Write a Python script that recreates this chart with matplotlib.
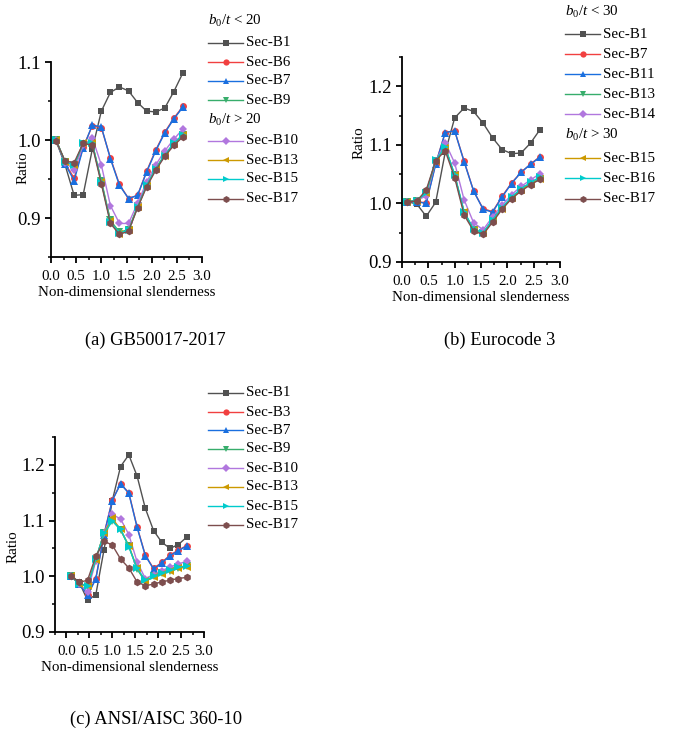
import matplotlib
matplotlib.use("Agg")
from matplotlib import pyplot as plt
from matplotlib.lines import Line2D

plt.rcParams['font.family'] = ['Liberation Serif', 'DejaVu Serif']
plt.rcParams['mathtext.fontset'] = 'custom'
plt.rcParams['mathtext.rm'] = 'Liberation Serif'
plt.rcParams['mathtext.it'] = 'Liberation Serif:italic'
plt.rcParams['font.size'] = 10.8

W, H = 682, 735

# non-dimensional slenderness of the analysed columns
slenderness = [0.10, 0.28, 0.46, 0.64, 0.82, 1.00, 1.18, 1.36, 1.54, 1.72, 1.90, 2.08, 2.26, 2.44, 2.62]

# (a) GB50017-2017
gb_names = ["Sec-B1", "Sec-B6", "Sec-B7", "Sec-B9", "Sec-B10", "Sec-B13", "Sec-B15", "Sec-B17"]
gb_b1 = [0.999, 0.968, 0.929, 0.930, 0.988, 1.037, 1.061, 1.068, 1.063, 1.048, 1.037, 1.036, 1.041, 1.062, 1.086]
gb_b6 = [1.000, 0.970, 0.951, 0.991, 1.018, 1.016, 0.977, 0.943, 0.925, 0.929, 0.960, 0.987, 1.010, 1.028, 1.043]
gb_b7 = [1.000, 0.969, 0.948, 0.990, 1.019, 1.017, 0.976, 0.942, 0.925, 0.929, 0.959, 0.986, 1.009, 1.027, 1.042]
gb_b9 = [1.000, 0.972, 0.967, 0.995, 0.995, 0.948, 0.897, 0.882, 0.885, 0.915, 0.942, 0.964, 0.981, 0.996, 1.007]
gb_b10 = [1.000, 0.971, 0.962, 0.993, 1.003, 0.968, 0.916, 0.893, 0.893, 0.919, 0.946, 0.968, 0.986, 1.001, 1.014]
gb_b13 = [1.000, 0.972, 0.968, 0.996, 0.996, 0.946, 0.896, 0.880, 0.884, 0.914, 0.941, 0.963, 0.980, 0.995, 1.006]
gb_b15 = [1.000, 0.972, 0.968, 0.996, 0.996, 0.946, 0.895, 0.881, 0.884, 0.914, 0.942, 0.963, 0.980, 0.996, 1.006]
gb_b17 = [0.999, 0.973, 0.971, 0.996, 0.993, 0.944, 0.893, 0.879, 0.883, 0.913, 0.940, 0.961, 0.979, 0.993, 1.004]
gb_series = [gb_b1, gb_b6, gb_b7, gb_b9, gb_b10, gb_b13, gb_b15, gb_b17]

# (b) Eurocode 3
ec_names = ["Sec-B1", "Sec-B7", "Sec-B11", "Sec-B13", "Sec-B14", "Sec-B15", "Sec-B16", "Sec-B17"]
ec_b1 = [1.003, 0.999, 0.978, 1.002, 1.087, 1.146, 1.163, 1.157, 1.137, 1.112, 1.092, 1.085, 1.086, 1.103, 1.126]
ec_b7 = [1.003, 1.003, 1.001, 1.068, 1.121, 1.124, 1.072, 1.021, 0.991, 0.986, 1.012, 1.035, 1.053, 1.067, 1.080]
ec_b11 = [1.003, 1.003, 1.000, 1.067, 1.121, 1.124, 1.071, 1.021, 0.990, 0.985, 1.011, 1.034, 1.053, 1.067, 1.079]
ec_b13 = [1.003, 1.005, 1.018, 1.073, 1.096, 1.048, 0.984, 0.955, 0.950, 0.972, 0.992, 1.010, 1.024, 1.034, 1.042]
ec_b14 = [1.003, 1.005, 1.013, 1.072, 1.104, 1.069, 1.006, 0.967, 0.955, 0.977, 0.997, 1.015, 1.029, 1.040, 1.051]
ec_b15 = [1.003, 1.005, 1.018, 1.073, 1.095, 1.048, 0.985, 0.955, 0.949, 0.971, 0.991, 1.009, 1.023, 1.033, 1.042]
ec_b16 = [1.003, 1.005, 1.018, 1.074, 1.096, 1.049, 0.986, 0.956, 0.950, 0.972, 0.993, 1.011, 1.025, 1.036, 1.045]
ec_b17 = [1.003, 1.004, 1.023, 1.073, 1.090, 1.044, 0.980, 0.953, 0.947, 0.968, 0.990, 1.008, 1.021, 1.032, 1.041]
ec_series = [ec_b1, ec_b7, ec_b11, ec_b13, ec_b14, ec_b15, ec_b16, ec_b17]

# (c) ANSI/AISC 360-10
aisc_names = ["Sec-B1", "Sec-B3", "Sec-B7", "Sec-B9", "Sec-B10", "Sec-B13", "Sec-B15", "Sec-B17"]
aisc_b1 = [1.002, 0.989, 0.957, 0.967, 1.048, 1.136, 1.197, 1.218, 1.180, 1.122, 1.082, 1.061, 1.050, 1.057, 1.070]
aisc_b3 = [1.000, 0.986, 0.967, 0.996, 1.076, 1.137, 1.166, 1.150, 1.089, 1.038, 1.014, 1.025, 1.038, 1.047, 1.055]
aisc_b7 = [1.000, 0.986, 0.966, 0.995, 1.075, 1.136, 1.166, 1.149, 1.088, 1.037, 1.013, 1.024, 1.037, 1.046, 1.054]
aisc_b9 = [1.000, 0.987, 0.981, 1.030, 1.078, 1.100, 1.083, 1.054, 1.013, 0.990, 1.000, 1.006, 1.010, 1.014, 1.018]
aisc_b10 = [1.000, 0.987, 0.972, 1.028, 1.078, 1.111, 1.103, 1.075, 1.026, 0.996, 1.003, 1.010, 1.017, 1.022, 1.027]
aisc_b13 = [1.000, 0.987, 0.983, 1.030, 1.078, 1.104, 1.084, 1.055, 1.014, 0.992, 0.999, 1.005, 1.010, 1.014, 1.017]
aisc_b15 = [1.000, 0.987, 0.982, 1.031, 1.077, 1.099, 1.085, 1.053, 1.014, 0.993, 1.000, 1.006, 1.011, 1.016, 1.019]
aisc_b17 = [1.000, 0.989, 0.993, 1.036, 1.063, 1.056, 1.031, 1.015, 0.990, 0.983, 0.986, 0.990, 0.993, 0.996, 0.998]
aisc_series = [aisc_b1, aisc_b3, aisc_b7, aisc_b9, aisc_b10, aisc_b13, aisc_b15, aisc_b17]

xtick_vals = [0.0, 0.5, 1.0, 1.5, 2.0, 2.5, 3.0]

colors = ['#515151', '#F14040', '#1A6FDF', '#37AD6B', '#B177DE', '#CC9900', '#00CBCC', '#7D4E4E']
markers = ['s', 'o', '^', 'v', 'D', '<', '>', 'h']
msizes = [5, 5, 5.5, 5.5, 4.5, 5.5, 5.5, 5.5]


def rect(left, top, right, bottom):
    return [left / W, 1 - bottom / H, (right - left) / W, (bottom - top) / H]


def draw_panel(ax, series, xlim, ylim, yticks, ylabel_pos):
    for i, ys in enumerate(series):
        ax.plot(slenderness, ys, color=colors[i], marker=markers[i], ms=msizes[i],
                lw=1.0, mew=0, zorder=2 + i)
    ax.set_xticks(xtick_vals)
    ax.set_xticks([x / 4 for x in range(int(xlim[0] * 4), 13)], minor=True)
    ax.set_yticks(yticks)
    ax.set_yticks([round(yticks[0] - 0.05 + 0.05 * k, 3) for k in range(2 * len(yticks) + 2)], minor=True)
    ax.set_xlim(*xlim)
    ax.set_ylim(*ylim)
    ax.set_xticklabels(['%.1f' % t for t in xtick_vals])
    ax.set_yticklabels(['%.1f' % t for t in yticks])
    for s in ['top', 'right']:
        ax.spines[s].set_visible(False)
    for s in ['left', 'bottom']:
        ax.spines[s].set_linewidth(1.3)
    ax.tick_params(which='major', direction='out', length=4.5, width=1.3)
    ax.tick_params(which='minor', direction='out', length=2.5, width=1.1)
    ax.tick_params(axis='x', pad=5, labelsize=10.8)
    ax.tick_params(axis='y', pad=3, labelsize=13.5)
    ax.set_xlabel('Non-dimensional slenderness', fontsize=10.8, labelpad=2)
    ax.set_ylabel('Ratio', fontsize=10.8)
    ax.yaxis.set_label_coords(*ylabel_pos)


def draw_legend(fig, x0, rows, names):
    # rows: list of (y_pixel, item) where item is a series index or a header text
    for y, item in rows:
        fy = 1 - y / H
        if isinstance(item, str):
            fig.text(x0 / W, fy, item, ha='left', va='center', fontsize=10.8)
        else:
            fig.add_artist(Line2D([x0 / W, (x0 + 35) / W], [fy, fy], color=colors[item], lw=1.0))
            fig.add_artist(Line2D([(x0 + 17.5) / W], [fy], color=colors[item], marker=markers[item],
                                  ms=msizes[item] - 0.5, mew=0))
            fig.text((x0 + 38) / W, fy, names[item], ha='left', va='center', fontsize=10.8)


fig = plt.figure(figsize=(W / 100, H / 100), dpi=100)

ax_a = fig.add_axes(rect(51, 62, 202, 257))
draw_panel(ax_a, gb_series, (0.0, 3.0), (0.85, 1.1), [0.9, 1.0, 1.1], (-0.14, 0.46))

ax_b = fig.add_axes(rect(402, 57, 560, 262))
draw_panel(ax_b, ec_series, (0.0, 3.0), (0.9, 1.25), [0.9, 1.0, 1.1, 1.2], (-0.232, 0.58))

ax_c = fig.add_axes(rect(55, 437, 204, 632))
draw_panel(ax_c, aisc_series, (-0.25, 3.0), (0.9, 1.25), [0.9, 1.0, 1.1, 1.2], (-0.24, 0.44))

draw_legend(fig, 208, [(21, r'$b_{\mathit{0}}/t$ < 20'), (43, 0), (62, 1), (81, 2), (100, 3),
                       (120, r'$b_{\mathit{0}}/t$ > 20'), (141, 4), (160, 5), (179, 6), (199, 7)], gb_names)
draw_legend(fig, 565, [(12, r'$b_{\mathit{0}}/t$ < 30'), (34, 0), (54, 1), (74, 2), (94, 3), (114, 4),
                       (135, r'$b_{\mathit{0}}/t$ > 30'), (158, 5), (178, 6), (199, 7)], ec_names)
draw_legend(fig, 208, [(393, 0), (412, 1), (430, 2), (449, 3), (468, 4), (487, 5), (506, 6), (525, 7)],
            aisc_names)

fig.text(155 / W, 1 - 340 / H, '(a) GB50017-2017', ha='center', va='center', fontsize=13.3)
fig.text(500 / W, 1 - 340 / H, '(b) Eurocode 3', ha='center', va='center', fontsize=13.3)
fig.text(156 / W, 1 - 719 / H, '(c) ANSI/AISC 360-10', ha='center', va='center', fontsize=13.3)

fig.savefig('out.png', dpi=100)
